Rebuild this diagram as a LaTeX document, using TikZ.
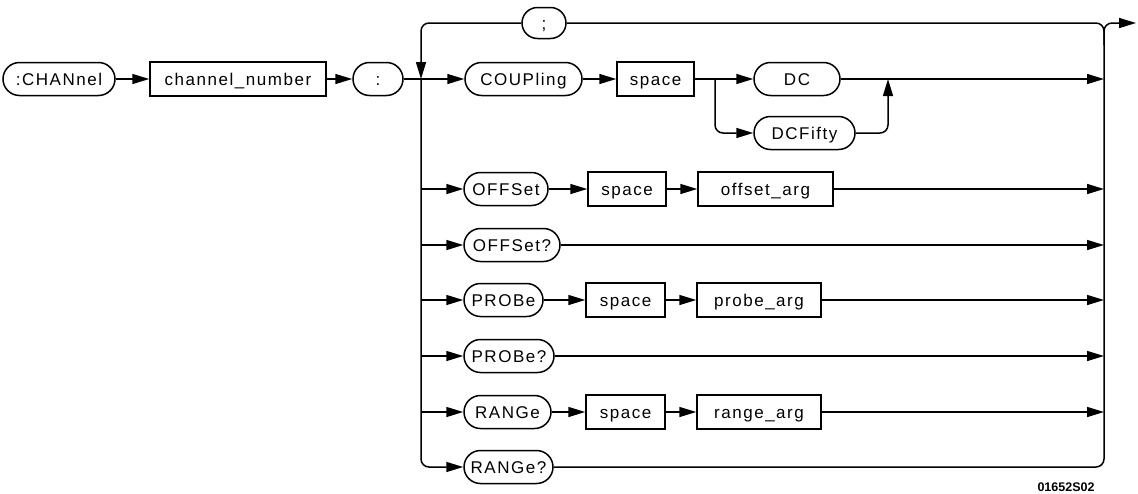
\documentclass[tikz,border=0pt]{standalone}
\usepackage{fontspec}
\setmainfont{Liberation Sans}[LetterSpace=9]
\newfontfamily\plainfont{Liberation Sans}
\usetikzlibrary{arrows.meta}
\begin{document}
\begin{tikzpicture}[x=1pt,y=-1pt,line width=1.5pt,
  txt/.style={font=\fontsize{17}{17}\selectfont,text height=12.2pt,text depth=0pt},
  pill/.style={txt,draw,rounded corners=16.5pt,minimum height=33pt,inner sep=0pt},
  box/.style={txt,draw,rectangle,minimum height=34pt,inner sep=0pt},
  arr/.style={-{Triangle[length=17pt 0 0,width=10pt 0 0]}},
  corner/.style={rounded corners=8pt}]
\useasboundingbox[fill=white] (0,0) rectangle (1138,493);
% first row
\node[pill,minimum width=112pt] (chan) at (59,79) {:CHANnel};
\node[box,minimum width=176pt] (chnum) at (238,79) {channel\_number};
\node[pill,minimum width=50pt] (colon) at (378,79) {:};
\node[pill,minimum width=44pt,minimum height=31pt,rounded corners=15.5pt] (semi) at (544,23) {;};
\node[pill,minimum width=117pt] (coup) at (523.5,79) {COUPling};
\node[box,minimum width=77pt] (sp1) at (655.5,79) {space};
\node[pill,minimum width=86pt] (dc) at (797,79) {DC};
\node[pill,minimum width=101pt] (dcf) at (804.5,133) {DCFifty};
% other rows
\node[pill,minimum width=84pt] (off) at (506,189) {OFFSet};
\node[box,minimum width=78pt] (sp2) at (627,189) {space};
\node[box,minimum width=135pt] (offarg) at (765.5,189) {offset\_arg};
\node[pill,minimum width=96pt] (offq) at (512,245) {OFFSet?};
\node[pill,minimum width=79pt] (probe) at (503.5,300) {PROBe};
\node[box,minimum width=79pt] (sp3) at (625.5,300) {space};
\node[box,minimum width=124pt] (probearg) at (759,300) {probe\_arg};
\node[pill,minimum width=90pt] (probeq) at (509,356) {PROBe?};
\node[pill,minimum width=87pt] (range) at (507.5,412) {RANGe};
\node[box,minimum width=79pt] (sp4) at (625.5,412) {space};
\node[box,minimum width=124pt] (rangearg) at (759,412) {range\_arg};
\node[pill,minimum width=89pt] (rangeq) at (508.5,467) {RANGe?};
\node[font=\plainfont\bfseries\fontsize{12.5}{12.5}\selectfont] (code) at (1066,487) {01652S02};
% coordinates
\coordinate (l0) at (421,79);
\coordinate (l1) at (421,189);
\coordinate (l2) at (421,245);
\coordinate (l3) at (421,300);
\coordinate (l4) at (421,356);
\coordinate (l5) at (421,412);
\coordinate (lbot) at (421,467);
\coordinate (ltop) at (421,23);
\coordinate (r0) at (1104,79);
\coordinate (r1) at (1104,189);
\coordinate (r2) at (1104,245);
\coordinate (r3) at (1104,300);
\coordinate (r4) at (1104,356);
\coordinate (r5) at (1104,412);
\coordinate (rbot) at (1104,467);
\coordinate (rtop) at (1104,23);
\coordinate (rlow) at (1104,45);
\coordinate (exit) at (1136,23);
\coordinate (br) at (715,79);
\coordinate (mg) at (888,79);
% first row connectors
\draw[arr] (chan) -- (chnum);
\draw[arr] (chnum) -- (colon);
\draw[arr] (colon) -- (coup);
\draw[arr] (coup) -- (sp1);
\draw[arr] (sp1) -- (dc);
\draw[arr,corner] (br) |- (dcf.west);
\draw[arr,corner] (dcf.east) -| (mg);
\draw[arr] (dc) -- (r0);
% loop back
\draw[corner] (rlow) -- (rtop) -- (semi.east);
\draw[arr,corner] (semi.west) -- (ltop) -- (l0);
\draw[arr,corner] (l0) -- (lbot) -- (rangeq.west);
\draw[corner] (rangeq.east) -- (rbot) -- (rlow);
\draw[arr,corner] (rlow) -- (rtop) -- (exit);
% rows
\draw[arr] (l1) -- (off);
\draw[arr] (off) -- (sp2);
\draw[arr] (sp2) -- (offarg);
\draw[arr] (offarg) -- (r1);
\draw[arr] (l2) -- (offq);
\draw[arr] (offq) -- (r2);
\draw[arr] (l3) -- (probe);
\draw[arr] (probe) -- (sp3);
\draw[arr] (sp3) -- (probearg);
\draw[arr] (probearg) -- (r3);
\draw[arr] (l4) -- (probeq);
\draw[arr] (probeq) -- (r4);
\draw[arr] (l5) -- (range);
\draw[arr] (range) -- (sp4);
\draw[arr] (sp4) -- (rangearg);
\draw[arr] (rangearg) -- (r5);
\end{tikzpicture}
\end{document}
